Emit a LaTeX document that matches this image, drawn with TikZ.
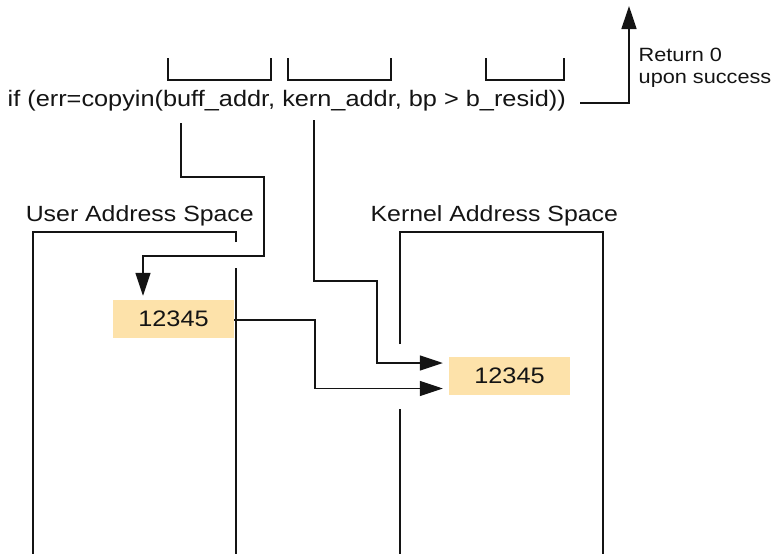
\documentclass[tikz,border=0pt]{standalone}
\usepackage{fontspec}
\setmainfont{Liberation Sans}[FakeStretch=1.13]
\usetikzlibrary{arrows.meta}
\definecolor{boxfill}{RGB}{253,226,170}
\definecolor{ink}{RGB}{20,20,20}
\begin{document}
\begin{tikzpicture}[x=1pt,y=-1pt,
  ln/.style={draw=ink, line width=1.4pt},
  arr/.style={ln, -{Triangle[length=23pt,width=15pt]}},
  txt/.style={inner sep=0pt, anchor=base west, text=ink, font=\fontsize{22}{26}\selectfont},
  small/.style={inner sep=0pt, anchor=base west, text=ink, align=left, font=\fontsize{19.2}{21.5}\selectfont},
  numbox/.style={fill=boxfill, draw=none, minimum width=121pt, minimum height=38pt, inner sep=0pt, text=ink, font=\fontsize{22.4}{26}\selectfont}
]
\useasboundingbox (0,0) rectangle (776,554);

% code line
\node[txt, font=\fontsize{22.4}{26}\selectfont] (code) at (7.5,106.5) {if (err=copyin(buff\_addr, kern\_addr, bp > b\_resid))};

% brackets
\draw[ln] (168,58) -- (168,80) -- (271,80) -- (271,58);
\draw[ln] (288,58) -- (288,80) -- (391,80) -- (391,58);
\draw[ln] (486,58) -- (486,80) -- (564,80) -- (564,58);

% return arrow
\coordinate (rs) at (580,103);
\coordinate (rt) at (629,6);
\draw[arr] (rs) -| (rt);
\node[small] (ret) at (638.5,83) {Return 0\\upon success};

% address space labels
\node[txt] (ulab) at (25.6,221.7) {User Address Space};
\node[txt] (klab) at (370.4,221.7) {Kernel Address Space};

% address spaces
\draw[ln] (236,242) -- (236,232) -- (33,232) -- (33,554);
\draw[ln] (236,268) -- (236,554);
\draw[ln] (400,344) -- (400,232) -- (603,232) -- (603,554);
\draw[ln] (400,409) -- (400,554);

% value boxes
\node[numbox] (ubox) at (173.5,319) {12345};
\node[numbox] (kbox) at (509.5,376) {12345};

% buff_addr connector
\coordinate (b0) at (181,123);
\coordinate (b1) at (264,177);
\coordinate (b2) at (143,256);
\draw[arr] (b0) |- (b1) |- (b2) -- ([yshift=4pt]ubox.north -| b2);

% kern_addr connector
\coordinate (k0) at (314,120);
\coordinate (k1) at (377,281);
\draw[arr] (k0) |- (k1) |- ([xshift=-6pt,yshift=13pt]kbox.west);

% value copy connector
\coordinate (v1) at (315,320);
\draw[arr] (ubox.east |- v1) -- (v1) |- ([xshift=-6pt,yshift=-12.5pt]kbox.west);
\end{tikzpicture}
\end{document}
